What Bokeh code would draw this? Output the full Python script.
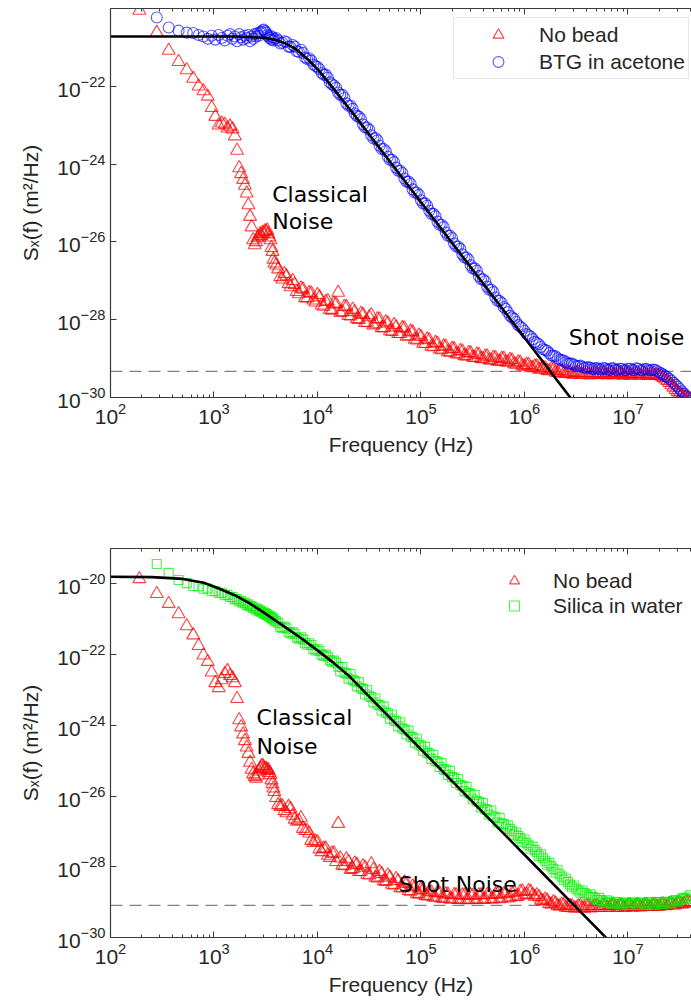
from bokeh.plotting import figure
from bokeh.layouts import column
from bokeh.models import (FixedTicker, Span, Label, Legend, LegendItem, LogAxis, Range1d,
                          CustomJSTickFormatter)
from bokeh.embed import file_html
from bokeh.resources import INLINE

# ---------------------------------------------------------------------------
# Frequency bins (Hz): linear FFT bins below ~4 kHz, two interleaved
# log-binned sets above (log10 of Hz)
# ---------------------------------------------------------------------------
freq_lin_hz = [190, 280, 365, 455, 545, 630, 710, 790, 870, 950,
               1030, 1110, 1190, 1270, 1350, 1430, 1510, 1590, 1670, 1750,
               1830, 1910, 1990, 2070, 2150, 2230, 2310, 2390, 2470, 2550,
               2630, 2710, 2790, 2870, 2950, 3030, 3110, 3190, 3270, 3350,
               3430, 3510, 3590, 3670, 3750, 3830]
freq_log_exp = [3.60, 3.64, 3.68, 3.72, 3.76, 3.80, 3.84, 3.88, 3.92, 3.96,
                4.00, 4.04, 4.08, 4.12, 4.16, 4.20, 4.24, 4.28, 4.32, 4.36,
                4.40, 4.44, 4.48, 4.52, 4.56, 4.60, 4.64, 4.68, 4.72, 4.76,
                4.80, 4.84, 4.88, 4.92, 4.96, 5.00, 5.04, 5.08, 5.12, 5.16,
                5.20, 5.24, 5.28, 5.32, 5.36, 5.40, 5.44, 5.48, 5.52, 5.56,
                5.60, 5.64, 5.68, 5.72, 5.76, 5.80, 5.84, 5.88, 5.92, 5.96,
                6.00, 6.04, 6.08, 6.12, 6.16, 6.20, 6.24, 6.28, 6.32, 6.36,
                6.40, 6.44, 6.48, 6.52, 6.56, 6.60, 6.64, 6.68, 6.72, 6.76,
                6.80, 6.84, 6.88, 6.92, 6.96, 7.00, 7.04, 7.08, 7.12, 7.16,
                7.20, 7.24, 7.28, 7.32, 7.36, 7.40, 7.44, 7.48, 7.52, 7.56,
                7.60]
freq_log_exp_mid = [3.62, 3.66, 3.70, 3.74, 3.78, 3.82, 3.86, 3.90, 3.94, 3.98,
                    4.02, 4.06, 4.10, 4.14, 4.18, 4.22, 4.26, 4.30, 4.34, 4.38,
                    4.42, 4.46, 4.50, 4.54, 4.58, 4.62, 4.66, 4.70, 4.74, 4.78,
                    4.82, 4.86, 4.90, 4.94, 4.98, 5.02, 5.06, 5.10, 5.14, 5.18,
                    5.22, 5.26, 5.30, 5.34, 5.38, 5.42, 5.46, 5.50, 5.54, 5.58,
                    5.62, 5.66, 5.70, 5.74, 5.78, 5.82, 5.86, 5.90, 5.94, 5.98,
                    6.02, 6.06, 6.10, 6.14, 6.18, 6.22, 6.26, 6.30, 6.34, 6.38,
                    6.42, 6.46, 6.50, 6.54, 6.58, 6.62, 6.66, 6.70, 6.74, 6.78,
                    6.82, 6.86, 6.90, 6.94, 6.98, 7.02, 7.06, 7.10, 7.14, 7.18,
                    7.22, 7.26, 7.30, 7.34, 7.38, 7.42, 7.46, 7.50, 7.54, 7.58]

# ---------------------------------------------------------------------------
# Top panel: log10 of S_x (m^2/Hz)
# ---------------------------------------------------------------------------
top_nobead_lin = [-20.05, -20.62, -21.08, -21.37, -21.58, -21.80, -22.00, -22.12, -22.26, -22.55,
                  -22.78, -23.00, -22.95, -22.98, -23.08, -23.03, -23.10, -23.28, -23.65, -24.10,
                  -24.25, -24.40, -24.55, -24.75, -25.05, -25.35, -25.62, -25.95, -26.08, -26.00,
                  -25.90, -25.86, -25.80, -25.84, -25.76, -25.78, -25.72, -25.74, -25.70, -25.80,
                  -25.88, -25.95, -26.15, -26.25, -26.45, -26.55]
top_nobead_log = [-26.60, -26.90, -26.82, -27.08, -27.00, -27.28, -27.19, -27.44, -27.31, -27.50,
                  -27.36, -27.63, -27.54, -27.74, -27.58, -27.30, -27.80, -27.67, -27.91, -27.80,
                  -28.00, -27.87, -28.07, -27.88, -28.11, -27.99, -28.21, -28.09, -28.31, -28.19,
                  -28.36, -28.22, -28.42, -28.32, -28.53, -28.44, -28.62, -28.52, -28.70, -28.61,
                  -28.78, -28.69, -28.84, -28.75, -28.89, -28.81, -28.94, -28.86, -28.98, -28.90,
                  -29.01, -28.94, -29.04, -28.98, -29.07, -29.00, -29.09, -29.04, -29.15, -29.10,
                  -29.20, -29.16, -29.24, -29.20, -29.28, -29.24, -29.32, -29.28, -29.36, -29.32,
                  -29.39, -29.35, -29.41, -29.36, -29.41, -29.37, -29.42, -29.37, -29.41, -29.38,
                  -29.42, -29.37, -29.41, -29.38, -29.43, -29.38, -29.42, -29.39, -29.43, -29.39,
                  -29.43, -29.40, -29.43, -29.46, -29.53, -29.62, -29.74, -29.85, -29.93, -29.98,
                  -30.03]
top_nobead_mid = [-26.70, -26.96, -26.88, -27.16, -27.10, -27.34, -27.22, -27.45, -27.32, -27.55,
                  -27.42, -27.66, -27.52, -27.76, -27.60, -27.82, -27.66, -27.90, -27.74, -27.98,
                  -27.84, -28.08, -27.93, -28.14, -27.98, -28.21, -28.06, -28.29, -28.13, -28.36,
                  -28.21, -28.43, -28.30, -28.51, -28.40, -28.61, -28.50, -28.69, -28.59, -28.76,
                  -28.68, -28.83, -28.74, -28.88, -28.80, -28.93, -28.85, -28.97, -28.89, -29.00,
                  -28.94, -29.04, -28.97, -29.07, -29.00, -29.09, -29.03, -29.14, -29.09, -29.19,
                  -29.15, -29.23, -29.19, -29.27, -29.23, -29.31, -29.27, -29.35, -29.31, -29.38,
                  -29.35, -29.40, -29.36, -29.41, -29.37, -29.42, -29.38, -29.41, -29.37, -29.42,
                  -29.38, -29.42, -29.37, -29.42, -29.38, -29.43, -29.39, -29.42, -29.38, -29.43,
                  -29.40, -29.44, -29.44, -29.49, -29.57, -29.68, -29.80, -29.89, -29.96, -30.00]
# BTG bead: first bin at 280 Hz
top_btg_lin = [-20.23, -20.49, -20.57, -20.62, -20.63, -20.68, -20.72, -20.78, -20.70, -20.80,
               -20.68, -20.76, -20.82, -20.70, -20.66, -20.78, -20.72, -20.84, -20.66, -20.74,
               -20.80, -20.70, -20.76, -20.68, -20.84, -20.72, -20.78, -20.66, -20.72, -20.64,
               -20.70, -20.62, -20.60, -20.56, -20.54, -20.58, -20.62, -20.68, -20.72, -20.76,
               -20.70, -20.80, -20.74, -20.82, -20.78]
top_btg_log = [-20.76, -20.90, -20.84, -20.98, -20.94, -21.10, -21.06, -21.26, -21.28, -21.44,
               -21.50, -21.66, -21.70, -21.90, -21.98, -22.16, -22.22, -22.44, -22.50, -22.70,
               -22.78, -22.98, -23.06, -23.26, -23.33, -23.53, -23.61, -23.81, -23.89, -24.09,
               -24.17, -24.37, -24.45, -24.65, -24.73, -24.93, -25.01, -25.20, -25.28, -25.48,
               -25.56, -25.76, -25.84, -26.04, -26.12, -26.32, -26.40, -26.60, -26.68, -26.88,
               -26.96, -27.15, -27.23, -27.43, -27.52, -27.68, -27.81, -27.94, -28.06, -28.18,
               -28.29, -28.40, -28.50, -28.60, -28.70, -28.78, -28.86, -28.93, -28.99, -29.04,
               -29.09, -29.13, -29.16, -29.19, -29.21, -29.23, -29.24, -29.25, -29.27, -29.24,
               -29.28, -29.25, -29.29, -29.26, -29.30, -29.26, -29.29, -29.25, -29.30, -29.27,
               -29.30, -29.28, -29.32, -29.38, -29.45, -29.52, -29.62, -29.72, -29.84, -29.97,
               -30.08]
top_btg_mid = [-20.82, -20.88, -20.86, -20.99, -20.98, -21.12, -21.14, -21.30, -21.34, -21.48,
               -21.56, -21.70, -21.78, -21.95, -22.04, -22.22, -22.30, -22.50, -22.58, -22.76,
               -22.84, -23.06, -23.12, -23.34, -23.39, -23.61, -23.67, -23.89, -23.95, -24.17,
               -24.23, -24.45, -24.51, -24.73, -24.79, -25.01, -25.07, -25.28, -25.34, -25.56,
               -25.62, -25.84, -25.90, -26.12, -26.18, -26.40, -26.46, -26.68, -26.74, -26.96,
               -27.01, -27.23, -27.29, -27.51, -27.57, -27.72, -27.90, -27.98, -28.14, -28.22,
               -28.37, -28.43, -28.57, -28.63, -28.76, -28.80, -28.92, -28.94, -29.03, -29.05,
               -29.13, -29.13, -29.19, -29.18, -29.24, -29.22, -29.27, -29.24, -29.28, -29.25,
               -29.29, -29.25, -29.29, -29.26, -29.30, -29.26, -29.30, -29.26, -29.30, -29.27,
               -29.30, -29.29, -29.35, -29.41, -29.48, -29.57, -29.67, -29.78, -29.90, -30.02]
# Fitted spectrum (log10 f, log10 S)
top_fit_exp = [2.0, 2.5, 3.0, 3.2, 3.4, 3.5, 3.6, 3.7, 3.8, 3.9, 4.0, 4.1, 4.2, 4.3, 4.4, 4.5, 6.5]
top_fit = [-20.72, -20.72, -20.72, -20.72, -20.74, -20.76, -20.81, -20.91, -21.06, -21.29,
           -21.56, -21.88, -22.21, -22.55, -22.89, -23.24, -30.20]
top_shot_level = 4.68e-30

# ---------------------------------------------------------------------------
# Bottom panel: log10 of S_x (m^2/Hz)
# ---------------------------------------------------------------------------
bot_nobead_lin = [-19.86, -20.28, -20.56, -20.85, -21.19, -21.45, -21.75, -22.02, -22.20, -22.50,
                  -22.80, -22.94, -22.72, -22.54, -22.46, -22.60, -22.66, -22.80, -23.25, -23.85,
                  -24.05, -24.25, -24.44, -24.62, -24.80, -25.05, -25.25, -25.38, -25.45, -25.50,
                  -25.42, -25.30, -25.22, -25.16, -25.14, -25.20, -25.24, -25.22, -25.28, -25.26,
                  -25.34, -25.40, -25.55, -25.66, -25.78, -25.88]
bot_nobead_log = [-26.05, -26.30, -26.42, -26.30, -26.55, -26.72, -26.62, -26.98, -27.05, -27.32,
                  -27.30, -27.58, -27.48, -27.74, -27.62, -26.78, -27.96, -27.78, -28.08, -27.90,
                  -28.14, -27.98, -28.22, -27.92, -28.30, -28.14, -28.40, -28.24, -28.50, -28.34,
                  -28.60, -28.44, -28.68, -28.55, -28.76, -28.64, -28.82, -28.70, -28.86, -28.73,
                  -28.89, -28.77, -28.92, -28.79, -28.93, -28.80, -28.94, -28.80, -28.93, -28.80,
                  -28.93, -28.79, -28.92, -28.78, -28.91, -28.77, -28.89, -28.74, -28.85, -28.70,
                  -28.80, -28.68, -28.80, -28.80, -28.95, -28.92, -29.05, -29.00, -29.10, -29.06,
                  -29.15, -29.10, -29.17, -29.11, -29.17, -29.11, -29.17, -29.11, -29.16, -29.10,
                  -29.16, -29.10, -29.15, -29.09, -29.15, -29.09, -29.14, -29.08, -29.14, -29.08,
                  -29.13, -29.07, -29.12, -29.06, -29.11, -29.05, -29.09, -29.03, -29.06, -28.99,
                  -29.02]
bot_nobead_mid = [-26.25, -26.28, -26.48, -26.36, -26.66, -26.70, -26.92, -26.98, -27.26, -27.28,
                  -27.50, -27.48, -27.68, -27.62, -27.86, -27.76, -27.98, -27.86, -28.06, -27.94,
                  -28.14, -28.02, -28.24, -28.08, -28.32, -28.20, -28.42, -28.30, -28.52, -28.40,
                  -28.60, -28.48, -28.70, -28.58, -28.78, -28.66, -28.83, -28.72, -28.87, -28.75,
                  -28.90, -28.78, -28.92, -28.80, -28.93, -28.81, -28.93, -28.81, -28.93, -28.80,
                  -28.92, -28.79, -28.91, -28.77, -28.89, -28.75, -28.86, -28.72, -28.83, -28.69,
                  -28.78, -28.70, -28.84, -28.85, -28.97, -28.95, -29.06, -29.03, -29.12, -29.08,
                  -29.16, -29.11, -29.17, -29.11, -29.17, -29.11, -29.16, -29.10, -29.16, -29.10,
                  -29.15, -29.09, -29.15, -29.09, -29.14, -29.08, -29.14, -29.08, -29.13, -29.07,
                  -29.13, -29.07, -29.12, -29.06, -29.10, -29.04, -29.08, -29.02, -29.05, -28.99]
# Silica bead: first bin at 280 Hz
bot_silica_lin = [-19.44, -19.69, -19.89, -19.98, -20.06, -20.07, -20.14, -20.13, -20.21, -20.20,
                  -20.26, -20.25, -20.32, -20.31, -20.38, -20.37, -20.44, -20.43, -20.50, -20.48,
                  -20.55, -20.53, -20.60, -20.58, -20.64, -20.63, -20.69, -20.67, -20.73, -20.71,
                  -20.77, -20.75, -20.81, -20.79, -20.85, -20.82, -20.88, -20.86, -20.92, -20.90,
                  -20.96, -20.94, -21.00, -20.98, -21.04]
bot_silica_log = [-21.06, -21.22, -21.21, -21.37, -21.36, -21.52, -21.51, -21.68, -21.68, -21.84,
                  -21.84, -22.00, -22.00, -22.16, -22.17, -22.34, -22.35, -22.53, -22.55, -22.75,
                  -22.78, -22.97, -23.01, -23.20, -23.24, -23.43, -23.47, -23.66, -23.70, -23.88,
                  -23.92, -24.11, -24.15, -24.34, -24.38, -24.57, -24.61, -24.80, -24.84, -25.03,
                  -25.07, -25.26, -25.29, -25.48, -25.52, -25.71, -25.74, -25.94, -25.97, -26.17,
                  -26.20, -26.39, -26.41, -26.60, -26.62, -26.79, -26.83, -26.99, -27.03, -27.19,
                  -27.23, -27.39, -27.43, -27.59, -27.65, -27.83, -27.89, -28.06, -28.10, -28.28,
                  -28.33, -28.50, -28.53, -28.67, -28.67, -28.79, -28.78, -28.89, -28.88, -28.98,
                  -28.95, -29.03, -28.99, -29.06, -29.01, -29.07, -29.01, -29.07, -29.01, -29.06,
                  -29.00, -29.06, -29.00, -29.05, -28.99, -29.04, -28.96, -28.99, -28.90, -28.91,
                  -28.81]
bot_silica_mid = [-21.11, -21.25, -21.26, -21.40, -21.41, -21.55, -21.57, -21.72, -21.73, -21.88,
                  -21.90, -22.04, -22.06, -22.20, -22.23, -22.48, -22.51, -22.68, -22.72, -22.90,
                  -22.95, -23.12, -23.18, -23.35, -23.41, -23.58, -23.64, -23.81, -23.87, -24.03,
                  -24.09, -24.26, -24.32, -24.49, -24.55, -24.72, -24.78, -24.95, -25.01, -25.18,
                  -25.24, -25.40, -25.46, -25.63, -25.69, -25.86, -25.91, -26.09, -26.14, -26.32,
                  -26.37, -26.53, -26.58, -26.75, -26.78, -26.89, -26.93, -27.09, -27.13, -27.29,
                  -27.33, -27.49, -27.53, -27.70, -27.76, -27.94, -27.99, -28.16, -28.21, -28.38,
                  -28.43, -28.58, -28.62, -28.73, -28.74, -28.85, -28.85, -28.94, -28.94, -29.02,
                  -28.99, -29.05, -29.01, -29.07, -29.02, -29.08, -29.02, -29.08, -29.02, -29.07,
                  -29.01, -29.06, -29.00, -29.05, -28.99, -29.02, -28.94, -28.96, -28.88, -28.87]
bot_fit_exp = [2.0, 2.4, 2.7, 2.9, 3.03, 3.2, 3.35, 3.5, 3.67, 3.84, 4.0, 4.15, 4.3, 4.5,
               5.0, 5.5, 6.0, 6.5, 6.8]
bot_fit = [-19.80, -19.81, -19.86, -19.97, -20.11, -20.32, -20.56, -20.85, -21.19, -21.53,
           -21.88, -22.22, -22.59, -23.19, -24.68, -26.17, -27.66, -29.15, -30.04]
bot_shot_level = 8.13e-30

# Axis ticks (decade exponents)
x_tick_exp = [2, 3, 4, 5, 6, 7]
top_y_tick_exp = [-30, -28, -26, -24, -22]
bot_y_tick_exp = [-30, -28, -26, -24, -22, -20]

freq_hz = (freq_lin_hz + [10 ** e for e in freq_log_exp]
           + [10 ** e for e in freq_log_exp_mid])


def psd(values):
    return [10 ** v for v in values]


TICK_FONT = "Liberation Sans"
NOTE_FONT = "DejaVu Sans"
INK = "#262626"
AXIS = "#3a3a3a"
RED, BLUE, GREEN = "#ff0000", "#0000ff", "#00ee00"


def style_axis(ax):
    ax.axis_line_color = AXIS
    ax.axis_line_width = 1.2
    ax.major_tick_line_color = AXIS
    ax.minor_tick_line_color = AXIS
    ax.major_tick_in = 6
    ax.major_tick_out = 0
    ax.minor_tick_in = 3
    ax.minor_tick_out = 0
    ax.major_label_text_font = TICK_FONT
    ax.major_label_text_color = INK
    ax.major_label_text_font_size = "21px"
    ax.major_label_standoff = 5
    ax.axis_label_text_font = TICK_FONT
    ax.axis_label_text_font_size = "21px"
    ax.axis_label_text_font_style = "normal"
    ax.axis_label_text_color = INK


def make_panel(height, border_top, border_bottom, y_hi, y_ticks):
    p = figure(width=691, height=height, x_axis_type="log", y_axis_type="log",
               x_range=Range1d(1e2, 10 ** 7.614), y_range=Range1d(1e-30, y_hi),
               output_backend="svg", toolbar_location=None,
               min_border_left=110, min_border_right=0,
               min_border_top=border_top, min_border_bottom=border_bottom)
    p.outline_line_color = None
    p.grid.visible = False
    p.background_fill_color = "white"
    p.border_fill_color = "white"

    xt = FixedTicker(ticks=[10.0 ** e for e in x_tick_exp],
                     minor_ticks=[m * 10.0 ** e for e in x_tick_exp for m in range(2, 10)])
    yt = FixedTicker(ticks=[10.0 ** e for e in y_ticks], minor_ticks=[])
    p.xaxis.ticker = xt
    p.yaxis.ticker = yt
    style_axis(p.xaxis[0])
    style_axis(p.yaxis[0])
    p.xaxis.axis_label = "Frequency (Hz)"
    p.xaxis.axis_label_standoff = 6
    p.yaxis.axis_label = "S\u2093(f) (m\u00b2/Hz)"
    p.yaxis.axis_label_standoff = 12

    # box edge along the top with inward ticks, no labels
    top_axis = LogAxis(ticker=xt, formatter=CustomJSTickFormatter(code="return ' '"))
    style_axis(top_axis)
    top_axis.major_label_text_font_size = "1px"
    top_axis.major_label_standoff = 0
    p.add_layout(top_axis, "above")
    return p


def add_note(p, f, s, text):
    p.add_layout(Label(x=f, y=s, text=text, text_font=NOTE_FONT, text_font_size="22px",
                       text_color="black", text_baseline="alphabetic", text_align="left"))


def add_series(p, y_lin, y_log, y_mid, skip_first, **style):
    x = freq_hz[1:] if skip_first else freq_hz
    return p.scatter(x, psd(y_lin + y_log + y_mid), fill_color=None, line_width=1.1, **style)


# ---------------------------- top panel ------------------------------------
p1 = make_panel(470, 8, 73, 1e-20, top_y_tick_exp)
p1.add_layout(Span(location=top_shot_level, dimension="width", line_color="#7f7f7f",
                   line_dash="12 7", line_width=1.3, level="underlay"))
r1a = add_series(p1, top_nobead_lin, top_nobead_log, top_nobead_mid, False,
                 marker="triangle", size=13, line_color=RED, line_alpha=0.75)
r1b = add_series(p1, top_btg_lin, top_btg_log, top_btg_mid, True,
                 marker="circle", size=11, line_color=BLUE, line_alpha=0.65)
p1.line([10 ** e for e in top_fit_exp], psd(top_fit), line_color="black", line_width=2.6)
add_note(p1, 3650, 1.68e-25, "Classical")
add_note(p1, 3650, 3.35e-26, "Noise")
add_note(p1, 2.68e6, 3.5e-29, "Shot noise")
leg1 = Legend(items=[LegendItem(label="No bead", renderers=[r1a]),
                     LegendItem(label="BTG in acetone", renderers=[r1b])],
              location=(343, 318), padding=3, spacing=0, glyph_width=82, glyph_height=27,
              label_height=27, label_standoff=0, margin=0,
              label_text_font=TICK_FONT, label_text_font_size="21px", label_text_color=INK,
              border_line_color="#cfcfcf", border_line_width=1,
              background_fill_color="white", background_fill_alpha=1.0)
p1.add_layout(leg1)

# --------------------------- bottom panel ----------------------------------
p2 = make_panel(532, 78, 65, 1e-19, bot_y_tick_exp)
p2.add_layout(Span(location=bot_shot_level, dimension="width", line_color="#7f7f7f",
                   line_dash="12 7", line_width=1.3, level="underlay"))
r2a = add_series(p2, bot_nobead_lin, bot_nobead_log, bot_nobead_mid, False,
                 marker="triangle", size=13, line_color=RED, line_alpha=0.75)
r2b = add_series(p2, bot_silica_lin, bot_silica_log, bot_silica_mid, True,
                 marker="square", size=9, line_color=GREEN, line_alpha=0.7)
p2.line([10 ** e for e in bot_fit_exp], psd(bot_fit), line_color="black", line_width=2.6)
add_note(p2, 2580, 1.65e-24, "Classical")
add_note(p2, 2580, 2.6e-25, "Noise")
add_note(p2, 6.1e4, 3.2e-29, "Shot Noise")
leg2 = Legend(items=[LegendItem(label="No bead", renderers=[r2a]),
                     LegendItem(label="Silica in water", renderers=[r2b])],
              location=(374, 319), padding=4, spacing=0, glyph_width=60, glyph_height=25,
              label_height=25, label_standoff=9, margin=0,
              label_text_font=TICK_FONT, label_text_font_size="21px", label_text_color=INK,
              border_line_color=None, background_fill_alpha=0.0)
p2.add_layout(leg2)

layout = column(p1, p2, spacing=0)
open("out.html", "w").write(file_html(layout, INLINE))
